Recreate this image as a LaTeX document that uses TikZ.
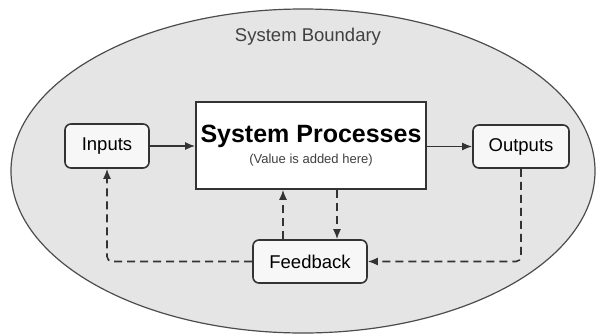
\documentclass[tikz,border=0pt]{standalone}
\usepackage{fontspec}
\setmainfont{Liberation Sans}
\usetikzlibrary{arrows.meta}

\begin{document}
\begin{tikzpicture}[x=1pt,y=-1pt,
    line width=1.6pt,
    stage/.style={draw=black!80,fill=black!3,rounded corners=6pt,
      font=\fontsize{18.5}{20}\selectfont},
    flow/.style={draw=black!80,-{Latex[length=10pt,width=8pt]}},
    loop/.style={flow,dash pattern=on 8pt off 5pt,rounded corners=5pt}]
      \useasboundingbox (0,0) rectangle (597,335);
      \draw[draw=black!70,fill=black!10,line width=1.2pt] (303,171) ellipse [x radius=292pt,y radius=162pt];
      \node[text=black!75,font=\fontsize{18.5}{20}\selectfont] (bound) at (308,37) {System Boundary};

      \node[draw=black!80,fill=white,minimum width=230pt,minimum height=87pt,align=center,inner sep=0pt] (proc) at (311,145.5)
        {{\fontsize{25}{27}\selectfont\bfseries System Processes}\\[5pt]
         {\fontsize{13}{14}\selectfont\color{black!75}(Value is added here)}};
      \node[stage,minimum width=84pt,minimum height=44pt] (inp) at (107,146) {Inputs};
      \node[stage,minimum width=96pt,minimum height=43pt] (outp) at (521,146.5) {Outputs};
      \node[stage,minimum width=114pt,minimum height=43pt] (fb) at (310,261.5) {Feedback};

      \draw[flow] (inp.east) -- (proc.west |- inp.east);
      \draw[flow] (proc.east |- outp.west) -- (outp.west);
      \draw[loop] (outp.south) |- (fb.east);
      \draw[loop] (fb.west) -| (inp.south);
      \draw[loop] ([xshift=-27pt]fb.north) -- ([xshift=-27pt]fb.north |- proc.south);
      \draw[loop] ([xshift=26pt]proc.south) -- ([xshift=26pt]proc.south |- fb.north);
\end{tikzpicture}
\end{document}
